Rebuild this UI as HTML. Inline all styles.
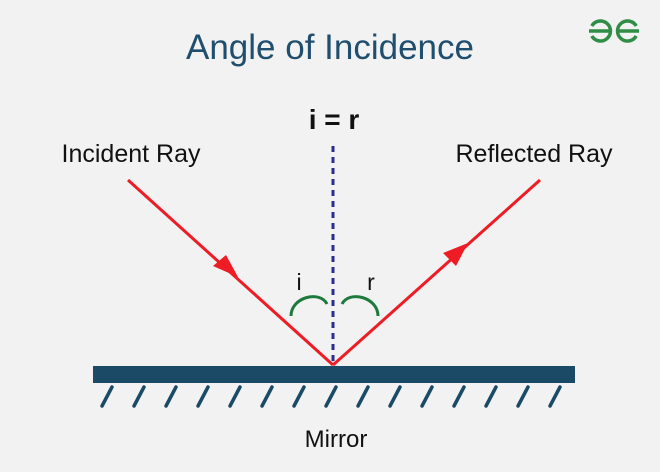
<!DOCTYPE html>
<html><head><style>
body{margin:0;background:#f2f2f2;}
svg{display:block;}
</style></head><body>
<svg width="660" height="472" viewBox="0 0 660 472" xmlns="http://www.w3.org/2000/svg">
<rect width="660" height="472" fill="#f2f2f2"/>
<text x="330" y="59" text-anchor="middle" font-family="Liberation Sans, sans-serif" font-size="35" fill="#1f4e6e">Angle of Incidence</text>
<g stroke="#2f8d46" stroke-width="3.5" fill="none">
<path d="M589 31 H611 M591.8 26 A10 10 0 1 1 591.8 36"/>
<path d="M639 31 H617 M636.2 26 A10 10 0 1 0 636.2 36"/>
</g>
<text x="334" y="129" text-anchor="middle" font-family="Liberation Sans, sans-serif" font-size="28" font-weight="bold" fill="#111">i = r</text>
<text x="131" y="162" text-anchor="middle" font-family="Liberation Sans, sans-serif" font-size="25" fill="#111">Incident Ray</text>
<text x="534" y="162" text-anchor="middle" font-family="Liberation Sans, sans-serif" font-size="25" fill="#111">Reflected Ray</text>
<line x1="333" y1="146" x2="333" y2="362" stroke="#2b2e8f" stroke-width="3" stroke-dasharray="6,5"/>
<g stroke="#ee1c25" stroke-width="3" fill="none">
<line x1="128" y1="180" x2="333" y2="365"/>
<line x1="333" y1="365" x2="540" y2="180"/>
</g>
<polygon points="238,277 213,266 226,255" fill="#ee1c25"/>
<polygon points="468,243 456,266 443,253" fill="#ee1c25"/>
<g stroke="#1e7a3c" stroke-width="3" fill="none">
<path d="M291 316 C291 297 320 290 327 304"/>
<path d="M342 304 C349 290 378 297 378 316"/>
</g>
<text x="299" y="290" text-anchor="middle" font-family="Liberation Sans, sans-serif" font-size="23" fill="#111">i</text>
<text x="371" y="290" text-anchor="middle" font-family="Liberation Sans, sans-serif" font-size="23" fill="#111">r</text>
<rect x="93" y="366" width="482" height="17" fill="#1a4a66"/>
<g stroke="#1a4a66" stroke-width="3.5" stroke-linecap="round">
<line x1="112" y1="387" x2="102" y2="406"/>
<line x1="144" y1="387" x2="134" y2="406"/>
<line x1="176" y1="387" x2="166" y2="406"/>
<line x1="208" y1="387" x2="198" y2="406"/>
<line x1="240" y1="387" x2="230" y2="406"/>
<line x1="272" y1="387" x2="262" y2="406"/>
<line x1="304" y1="387" x2="294" y2="406"/>
<line x1="336" y1="387" x2="326" y2="406"/>
<line x1="368" y1="387" x2="358" y2="406"/>
<line x1="400" y1="387" x2="390" y2="406"/>
<line x1="432" y1="387" x2="422" y2="406"/>
<line x1="464" y1="387" x2="454" y2="406"/>
<line x1="496" y1="387" x2="486" y2="406"/>
<line x1="528" y1="387" x2="518" y2="406"/>
<line x1="560" y1="387" x2="550" y2="406"/>
</g>
<text x="336" y="447" text-anchor="middle" font-family="Liberation Sans, sans-serif" font-size="24" fill="#111">Mirror</text>
</svg>
</body></html>
